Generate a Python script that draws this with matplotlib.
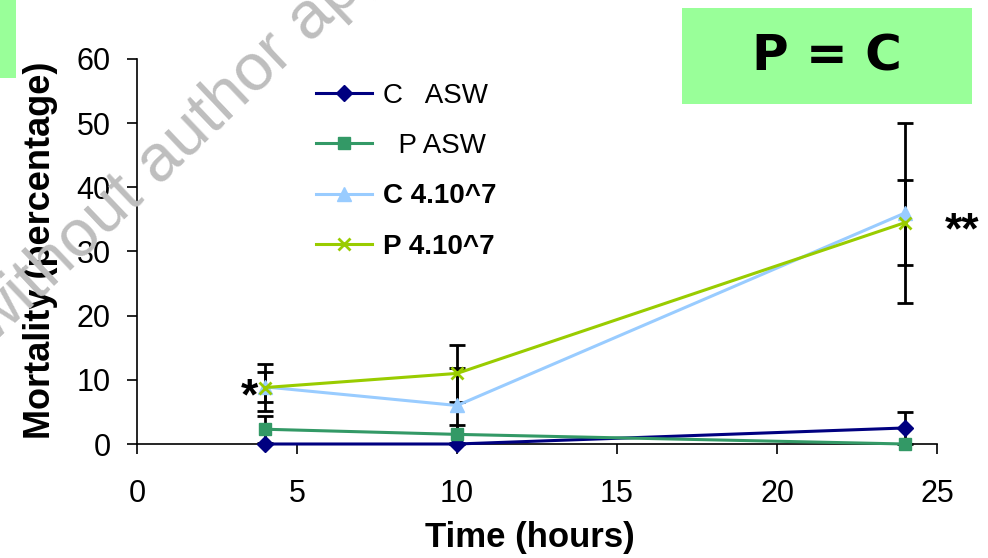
import matplotlib.pyplot as plt
from matplotlib.patches import Rectangle

plt.rcParams["font.family"] = ["Liberation Sans", "DejaVu Sans"]

# data
time_h = [4, 10, 24]
series_labels = ["C   ASW", "  P ASW", "C 4.10^7", "P 4.10^7"]
c_asw = [0.0, 0.0, 2.5]
c_asw_err = [0.0, 0.0, 2.5]
p_asw = [2.3, 1.5, 0.0]
p_asw_err = [2.1, 1.5, 0.0]
c_4e7 = [8.9, 6.0, 36.0]
c_4e7_err = [2.3, 5.8, 14.0]
p_4e7 = [8.8, 11.0, 34.5]
p_4e7_err = [3.7, 4.4, 6.6]

x_ticks = [0, 5, 10, 15, 20, 25]
y_ticks = [0, 10, 20, 30, 40, 50, 60]

colors = ["#000080", "#339966", "#99CCFF", "#99CC00"]
markers = ["D", "s", "^", "x"]
msizes = [8, 8.5, 10, 9]

fig = plt.figure(figsize=(9.88, 5.58), dpi=100)
ax = fig.add_axes([0.1387, 0.2043, 0.8097, 0.69])

means = [c_asw, p_asw, c_4e7, p_4e7]
errs = [c_asw_err, p_asw_err, c_4e7_err, p_4e7_err]

# error bars (black, under the lines)
for m, e in zip(means, errs):
    xs = [t for t, v in zip(time_h, e) if v > 0]
    ys = [mv for mv, v in zip(m, e) if v > 0]
    es = [v for v in e if v > 0]
    ax.errorbar(xs, ys, yerr=es, fmt="none", ecolor="black", elinewidth=2,
                capsize=6, capthick=2, zorder=2, clip_on=False)

handles = []
for i, (m, lab) in enumerate(zip(means, series_labels)):
    (h,) = ax.plot(time_h, m, color=colors[i], marker=markers[i], ms=msizes[i],
                   mew=2 if markers[i] == "x" else 1, lw=2.2, label=lab,
                   zorder=3 + i, clip_on=False)
    handles.append(h)

ax.set_xlim(0, 25)
ax.set_ylim(0, 60)
ax.set_xticks(x_ticks)
ax.set_yticks(y_ticks)
ax.spines["top"].set_visible(False)
ax.spines["right"].set_visible(False)
for s in ["left", "bottom"]:
    ax.spines[s].set_linewidth(1.2)
ax.tick_params(axis="y", direction="out", length=7, width=1.2, labelsize=22, pad=12)
ax.tick_params(axis="x", direction="out", length=7, width=1.2, labelsize=22, pad=18)

leg = ax.legend(handles=handles, loc="upper left", bbox_to_anchor=(316 / 988, 1 - 83 / 558),
                bbox_transform=fig.transFigure, frameon=False, fontsize=20,
                handlelength=2.0, handletextpad=0.4, labelspacing=0.87,
                borderpad=0, borderaxespad=0)
for t in leg.get_texts()[2:]:
    t.set_fontweight("bold")

# axis titles
fig.text(40 / 988, 1 - 250 / 558, "Mortality (percentage)", rotation=90,
         ha="center", va="center", fontsize=26, fontweight="bold")
fig.text(530 / 988, 1 - 538 / 558, "Time (hours)", ha="center", va="center",
         fontsize=25, fontweight="bold")

# significance stars
fig.text(249 / 988, 1 - 398 / 558, "*", ha="center", va="center", fontsize=32, fontweight="bold")
fig.text(962 / 988, 1 - 232 / 558, "**", ha="center", va="center", fontsize=32, fontweight="bold")

# green boxes
fig.patches.append(Rectangle((682 / 988, 1 - 104 / 558), 290 / 988, 96 / 558,
                             transform=fig.transFigure, facecolor="#99FF99",
                             edgecolor="none", zorder=0))
fig.patches.append(Rectangle((0, 1 - 78 / 558), 16 / 988, 78 / 558,
                             transform=fig.transFigure, facecolor="#99FF99",
                             edgecolor="none", zorder=0))
fig.text(827 / 988, 1 - 56 / 558, "P = C", ha="center", va="center",
         fontsize=36, fontweight="bold", family="DejaVu Sans")

# watermark
fig.text(-8 / 988, 1 - 345 / 558, "without author approval", rotation=43.5,
         rotation_mode="anchor", ha="left", va="baseline", fontsize=48,
         color="#bebebe", zorder=100)

fig.savefig("out.png", dpi=100)
